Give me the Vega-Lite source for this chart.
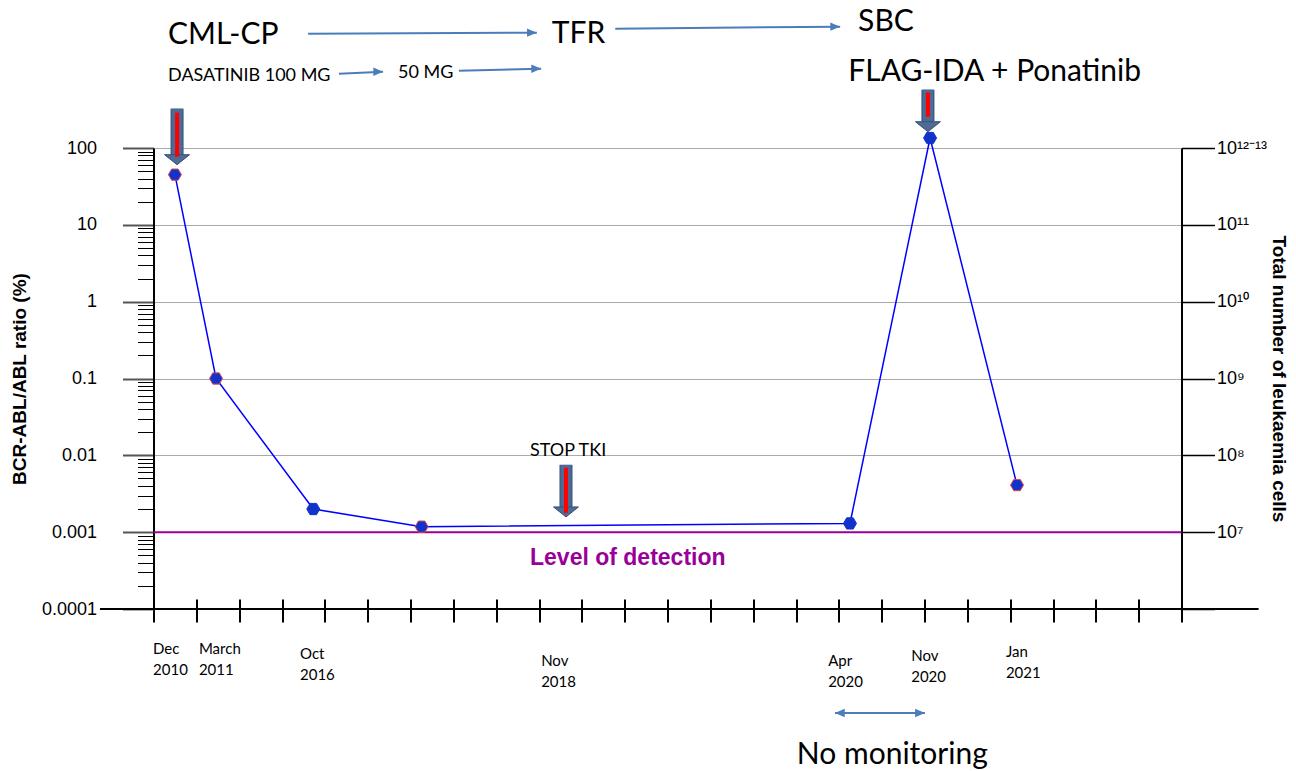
{
  "$schema": "https://vega.github.io/schema/vega-lite/v6.json",
  "width": 1028,
  "height": 461,
  "autosize": {"type": "none"},
  "padding": {"left": 153.5, "top": 148, "right": 114.5, "bottom": 162},
  "background": "white",
  "config": {"view": {"stroke": null}, "font": "Liberation Sans"},
  "datasets": {
    "series": [
      {"date": "Dec 2010", "t": 0.5, "ratio": 45},
      {"date": "March 2011", "t": 1.46, "ratio": 0.1},
      {"date": "Oct 2016", "t": 3.73, "ratio": 0.002},
      {"date": "", "t": 6.26, "ratio": 0.00118},
      {"date": "Apr 2020", "t": 16.26, "ratio": 0.0013},
      {"date": "Nov 2020", "t": 18.13, "ratio": 135},
      {"date": "Jan 2021", "t": 20.16, "ratio": 0.0041}
    ],
    "datelabels": [
      {"label": "Dec 2010", "t": -0.01, "level": 3.73e-5},
      {"label": "March 2011", "t": 1.06, "level": 3.73e-5},
      {"label": "Oct 2016", "t": 3.42, "level": 3.21e-5},
      {"label": "Nov 2018", "t": 9.05, "level": 2.6e-5},
      {"label": "Apr 2020", "t": 15.75, "level": 2.6e-5},
      {"label": "Nov 2020", "t": 17.69, "level": 3.02e-5},
      {"label": "Jan 2021", "t": 19.9, "level": 3.41e-5}
    ],
    "bigtext": [
      {"text": "CML-CP", "t": 0.34, "level": 2985},
      {"text": "TFR", "t": 9.3, "level": 3077},
      {"text": "SBC", "t": 16.45, "level": 4416},
      {"text": "FLAG-IDA + Ponatinib", "t": 16.22, "level": 984},
      {"text": "No monitoring", "t": 15.02, "level": 1.26e-6}
    ],
    "smalltext": [
      {"text": "DASATINIB 100 MG", "t": 0.34, "level": 873},
      {"text": "50 MG", "t": 5.71, "level": 955},
      {"text": "STOP TKI", "t": 8.79, "level": 0.01145}
    ],
    "flows": [
      {"from": "CML-CP", "t1": 3.61, "y1": 3077, "t2": 8.95, "y2": 3170, "double": false},
      {"from": "TFR", "t1": 10.78, "y1": 3573, "t2": 16.03, "y2": 3795, "double": false},
      {"from": "100 MG", "t1": 4.33, "y1": 927, "t2": 5.36, "y2": 984, "double": false},
      {"from": "50 MG", "t1": 7.13, "y1": 1014, "t2": 9.05, "y2": 1077, "double": false},
      {"from": "No monitoring", "t1": 15.91, "y1": 4.44e-6, "t2": 18.01, "y2": 4.44e-6, "double": true}
    ],
    "events": [
      {"event": "Diagnosis", "t": 0.55, "top": 325, "bottom": 81.8, "red1": 288, "red2": 77},
      {"event": "Stop TKI", "t": 9.63, "top": 0.00752, "bottom": 0.00213, "red1": 0.00687, "red2": 0.00178},
      {"event": "SBC", "t": 18.08, "top": 574, "bottom": 220, "red1": 525, "red2": 256}
    ],
    "guides": [
      {"name": "axisline", "t1": -1.25, "t2": 25.8, "level": 0.0001},
      {"name": "detection", "t1": 0, "t2": 24, "level": 0.001}
    ]
  },
  "layer": [
    {
      "data": {"name": "series"},
      "mark": {"type": "line", "color": "#0000ff", "strokeWidth": 1.5},
      "encoding": {
        "x": {"field": "t", "type": "quantitative",
          "scale": {"domain": [0, 24], "nice": false, "zero": false},
          "axis": {"orient": "bottom", "values": [0,1,2,3,4,5,6,7,8,9,10,11,12,13,14,15,16,17,18,19,20,21,22,23,24],
            "labels": false, "grid": false, "title": null, "domain": false,
            "tickSize": 13, "tickWidth": 2, "tickColor": "black"}},
        "y": {"field": "ratio", "type": "quantitative",
          "scale": {"type": "log", "domain": [0.0001, 100], "nice": false},
          "axis": {"orient": "left", "values": [100, 10, 1, 0.1, 0.01, 0.001, 0.0001],
            "labelExpr": "format(datum.value, '~g')",
            "labelFont": "Liberation Sans", "labelFontSize": 18, "labelColor": "black",
            "labelPadding": 26, "tickSize": 31, "tickWidth": 2, "tickColor": "#555555",
            "domain": true, "domainColor": "black", "domainWidth": 2,
            "grid": true, "gridColor": "#aaaaaa", "gridWidth": 1,
            "title": "BCR-ABL/ABL ratio (%)", "titleFont": "Liberation Sans", "titleFontSize": 19,
            "titleFontWeight": "bold", "titleColor": "black", "titlePadding": 12}}
      }
    },
    {
      "data": {"name": "series"},
      "mark": {"type": "point", "opacity": 0},
      "encoding": {
        "x": {"field": "t", "type": "quantitative",
          "scale": {"domain": [0, 24], "nice": false, "zero": false},
          "axis": {"orient": "bottom", "values": [1,2,3,4,5,6,7,8,9,10,11,12,13,14,15,16,17,18,19,20,21,22,23],
            "labels": false, "grid": false, "title": null, "domain": false,
            "tickSize": -10, "tickWidth": 2, "tickColor": "black"}},
        "y": {"field": "ratio", "type": "quantitative",
          "scale": {"type": "log", "domain": [0.0001, 100], "nice": false},
          "axis": {"orient": "left",
            "values": [0.0002,0.0003,0.0004,0.0005,0.0006,0.0007,0.0008,0.0009,0.002,0.003,0.004,0.005,0.006,0.007,0.008,0.009,0.02,0.03,0.04,0.05,0.06,0.07,0.08,0.09,0.2,0.3,0.4,0.5,0.6,0.7,0.8,0.9,2,3,4,5,6,7,8,9,20,30,40,50,60,70,80,90],
            "labels": false, "domain": false, "grid": false, "title": null,
            "tickSize": 16, "tickWidth": 1, "tickColor": "black"}}
      }
    },
    {
      "data": {"name": "series"},
      "mark": {"type": "point", "opacity": 0},
      "encoding": {
        "x": {"field": "t", "type": "quantitative",
          "scale": {"domain": [0, 24], "nice": false, "zero": false}, "axis": null},
        "y": {"field": "ratio", "type": "quantitative",
          "scale": {"type": "log", "domain": [0.0001, 100], "nice": false},
          "axis": {"orient": "right", "values": [100, 10, 1, 0.1, 0.01, 0.001, 0.0001],
            "labelExpr": "datum.value == 100 ? '10¹²⁻¹³' : datum.value == 10 ? '10¹¹' : datum.value == 1 ? '10¹⁰' : datum.value == 0.1 ? '10⁹' : datum.value == 0.01 ? '10⁸' : datum.value == 0.001 ? '10⁷' : ''",
            "labelFont": "Liberation Sans", "labelFontSize": 18, "labelColor": "black",
            "labelPadding": 2, "tickSize": 33, "tickWidth": 1.5, "tickColor": "black",
            "domain": true, "domainColor": "black", "domainWidth": 2, "grid": false,
            "title": "Total number of leukaemia cells", "titleFont": "Liberation Sans", "titleFontSize": 19,
            "titleFontWeight": "bold", "titleColor": "black", "titlePadding": 2}}
      }
    },
    {
      "data": {"name": "guides"},
      "mark": {"type": "rule", "strokeWidth": 2},
      "encoding": {
        "x": {"field": "t1", "type": "quantitative", "scale": {"domain": [0, 24], "nice": false, "zero": false}, "axis": null},
        "x2": {"field": "t2"},
        "y": {"field": "level", "type": "quantitative", "scale": {"type": "log", "domain": [0.0001, 100], "nice": false}, "axis": null},
        "color": {"condition": {"test": "datum.name == 'detection'", "value": "#990099"}, "value": "black"}
      }
    },
    {
      "data": {"name": "series"},
      "mark": {"type": "point", "filled": true, "size": 169, "strokeWidth": 1, "opacity": 1,
        "shape": "M-1,0L-0.5,-0.866L0.5,-0.866L1,0L0.5,0.866L-0.5,0.866Z", "fill": "#1133cc"},
      "encoding": {
        "x": {"field": "t", "type": "quantitative", "scale": {"domain": [0, 24], "nice": false, "zero": false}, "axis": null},
        "y": {"field": "ratio", "type": "quantitative", "scale": {"type": "log", "domain": [0.0001, 100], "nice": false}, "axis": null},
        "stroke": {"condition": {"test": "indexof(['Dec 2010', 'March 2011', '', 'Jan 2021'], datum.date) >= 0", "value": "#e04848"}, "value": "#1133cc"}
      }
    },
    {
      "data": {"name": "events"},
      "mark": {"type": "rule", "color": "#35507a", "strokeWidth": 13, "strokeCap": "butt"},
      "encoding": {
        "x": {"field": "t", "type": "quantitative", "scale": {"domain": [0, 24], "nice": false, "zero": false}, "axis": null},
        "y": {"field": "top", "type": "quantitative", "scale": {"type": "log", "domain": [0.0001, 100], "nice": false}, "axis": null},
        "y2": {"field": "bottom"}
      }
    },
    {
      "data": {"name": "events"},
      "mark": {"type": "rule", "color": "#4d6b94", "strokeWidth": 11, "strokeCap": "butt"},
      "encoding": {
        "x": {"field": "t", "type": "quantitative", "scale": {"domain": [0, 24], "nice": false, "zero": false}, "axis": null},
        "y": {"field": "top", "type": "quantitative", "scale": {"type": "log", "domain": [0.0001, 100], "nice": false}, "axis": null},
        "y2": {"field": "bottom"}
      }
    },
    {
      "data": {"name": "events"},
      "mark": {"type": "point", "filled": true, "size": 625, "opacity": 1,
        "shape": "M-1,0L1,0L0,0.8Z", "fill": "#4d6b94", "stroke": "#35507a", "strokeWidth": 1},
      "encoding": {
        "x": {"field": "t", "type": "quantitative", "scale": {"domain": [0, 24], "nice": false, "zero": false}, "axis": null},
        "y": {"field": "bottom", "type": "quantitative", "scale": {"type": "log", "domain": [0.0001, 100], "nice": false}, "axis": null}
      }
    },
    {
      "data": {"name": "events"},
      "mark": {"type": "rule", "color": "#ff0000", "strokeWidth": 4, "strokeCap": "butt"},
      "encoding": {
        "x": {"field": "t", "type": "quantitative", "scale": {"domain": [0, 24], "nice": false, "zero": false}, "axis": null},
        "y": {"field": "red1", "type": "quantitative", "scale": {"type": "log", "domain": [0.0001, 100], "nice": false}, "axis": null},
        "y2": {"field": "red2"}
      }
    },
    {
      "data": {"name": "flows"},
      "mark": {"type": "rule", "color": "#4a7ebb", "strokeWidth": 2},
      "encoding": {
        "x": {"field": "t1", "type": "quantitative", "scale": {"domain": [0, 24], "nice": false, "zero": false}, "axis": null},
        "x2": {"field": "t2"},
        "y": {"field": "y1", "type": "quantitative", "scale": {"type": "log", "domain": [0.0001, 100], "nice": false}, "axis": null},
        "y2": {"field": "y2"}
      }
    },
    {
      "data": {"name": "flows"},
      "mark": {"type": "point", "filled": true, "size": 196, "opacity": 1,
        "shape": "M-1.4,-0.6L0,0L-1.4,0.6Z", "fill": "#4a7ebb"},
      "encoding": {
        "x": {"field": "t2", "type": "quantitative", "scale": {"domain": [0, 24], "nice": false, "zero": false}, "axis": null},
        "y": {"field": "y2", "type": "quantitative", "scale": {"type": "log", "domain": [0.0001, 100], "nice": false}, "axis": null}
      }
    },
    {
      "data": {"name": "flows"},
      "transform": [{"filter": "datum.double"}],
      "mark": {"type": "point", "filled": true, "size": 196, "opacity": 1,
        "shape": "M1.4,-0.6L0,0L1.4,0.6Z", "fill": "#4a7ebb"},
      "encoding": {
        "x": {"field": "t1", "type": "quantitative", "scale": {"domain": [0, 24], "nice": false, "zero": false}, "axis": null},
        "y": {"field": "y1", "type": "quantitative", "scale": {"type": "log", "domain": [0.0001, 100], "nice": false}, "axis": null}
      }
    },
    {
      "data": {"name": "bigtext"},
      "mark": {"type": "text", "align": "left", "baseline": "middle", "font": "Lato", "fontSize": 30, "color": "black"},
      "encoding": {
        "x": {"field": "t", "type": "quantitative", "scale": {"domain": [0, 24], "nice": false, "zero": false}, "axis": null},
        "y": {"field": "level", "type": "quantitative", "scale": {"type": "log", "domain": [0.0001, 100], "nice": false}, "axis": null},
        "text": {"field": "text"}
      }
    },
    {
      "data": {"name": "smalltext"},
      "mark": {"type": "text", "align": "left", "baseline": "middle", "font": "Lato", "fontSize": 18, "color": "black"},
      "encoding": {
        "x": {"field": "t", "type": "quantitative", "scale": {"domain": [0, 24], "nice": false, "zero": false}, "axis": null},
        "y": {"field": "level", "type": "quantitative", "scale": {"type": "log", "domain": [0.0001, 100], "nice": false}, "axis": null},
        "text": {"field": "text"}
      }
    },
    {
      "data": {"name": "datelabels"},
      "mark": {"type": "text", "align": "left", "baseline": "top", "font": "Lato", "fontSize": 15, "lineBreak": " ", "lineHeight": 21, "color": "black"},
      "encoding": {
        "x": {"field": "t", "type": "quantitative", "scale": {"domain": [0, 24], "nice": false, "zero": false}, "axis": null},
        "y": {"field": "level", "type": "quantitative", "scale": {"type": "log", "domain": [0.0001, 100], "nice": false}, "axis": null},
        "text": {"field": "label"}
      }
    },
    {
      "data": {"values": [{"text": "Level of detection", "t": 8.79, "level": 0.000463}]},
      "mark": {"type": "text", "align": "left", "baseline": "middle", "font": "Liberation Sans", "fontSize": 23, "fontWeight": "bold", "color": "#990099"},
      "encoding": {
        "x": {"field": "t", "type": "quantitative", "scale": {"domain": [0, 24], "nice": false, "zero": false}, "axis": null},
        "y": {"field": "level", "type": "quantitative", "scale": {"type": "log", "domain": [0.0001, 100], "nice": false}, "axis": null},
        "text": {"field": "text"}
      }
    }
  ],
  "resolve": {"axis": {"x": "independent", "y": "independent"}}
}
